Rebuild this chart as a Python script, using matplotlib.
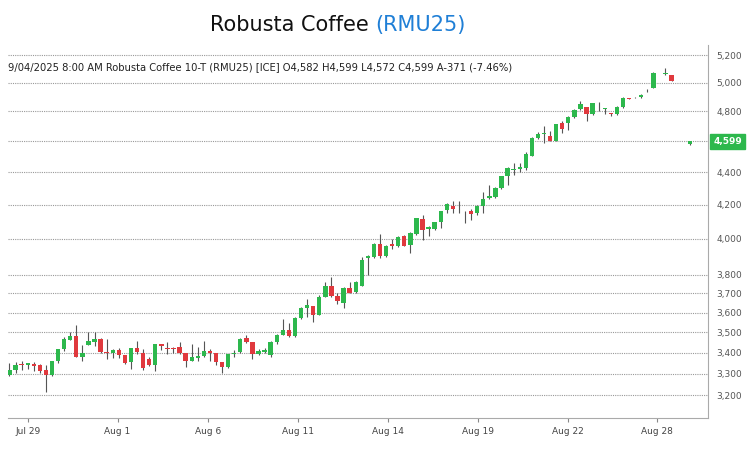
import matplotlib.pyplot as plt
from matplotlib.ticker import FixedLocator, NullLocator
import numpy as np

# OHLC bars
opens = [3294, 3318, 3345, 3342, 3345, 3340, 3318, 3294, 3362, 3416,
         3462, 3483, 3380, 3438, 3450, 3465, 3403, 3398, 3412, 3387,
         3355, 3425, 3400, 3368, 3340, 3440, 3425, 3425, 3428, 3400,
         3362, 3375, 3382, 3407, 3398, 3353, 3333, 3395, 3405, 3470,
         3450, 3395, 3405, 3390, 3450, 3485, 3510, 3480, 3575, 3625,
         3635, 3590, 3680, 3740, 3685, 3650, 3730, 3710, 3740, 3890,
         3900, 3970, 3905, 3970, 3958, 4018, 3965, 4030, 4115, 4055,
         4055, 4095, 4170, 4195, 4165, 4150, 4165, 4148, 4195, 4240,
         4245, 4300, 4375, 4412, 4418, 4425, 4505, 4620, 4645, 4635,
         4600, 4718, 4722, 4760, 4815, 4830, 4780, 4850, 4818, 4785,
         4778, 4830, 4890, 4895, 4895, 4935, 4965, 5055, 5060, 5055,
         5005, 4975, 4582]
highs = [3350, 3353, 3358, 3352, 3357, 3345, 3340, 3362, 3420, 3475,
         3500, 3535, 3438, 3500, 3500, 3472, 3465, 3420, 3422, 3390,
         3425, 3458, 3420, 3380, 3440, 3442, 3450, 3428, 3450, 3400,
         3440, 3430, 3458, 3418, 3398, 3353, 3395, 3415, 3470, 3485,
         3450, 3420, 3425, 3455, 3490, 3570, 3545, 3580, 3630, 3670,
         3635, 3690, 3760, 3790, 3700, 3735, 3760, 3765, 3900, 3910,
         3975, 4030, 3965, 4000, 4015, 4020, 4040, 4120, 4140, 4075,
         4098, 4160, 4210, 4220, 4225, 4165, 4175, 4198, 4275, 4320,
         4305, 4378, 4430, 4455, 4455, 4530, 4625, 4660, 4700, 4665,
         4710, 4735, 4765, 4815, 4870, 4830, 4860, 4865, 4822, 4787,
         4835, 4895, 4892, 4900, 4920, 4955, 5075, 5058, 5105, 5058,
         5007, 4977, 4599]
lows = [3290, 3305, 3318, 3320, 3310, 3305, 3215, 3290, 3350, 3410,
        3460, 3380, 3358, 3438, 3435, 3400, 3370, 3375, 3375, 3345,
        3320, 3395, 3318, 3337, 3312, 3415, 3395, 3398, 3395, 3330,
        3360, 3362, 3378, 3362, 3342, 3305, 3325, 3380, 3400, 3448,
        3370, 3390, 3400, 3380, 3440, 3485, 3475, 3475, 3570, 3580,
        3550, 3590, 3680, 3680, 3645, 3625, 3700, 3700, 3740, 3800,
        3890, 3895, 3900, 3945, 3955, 3958, 3920, 4025, 3995, 4015,
        4050, 4060, 4150, 4150, 4150, 4090, 4110, 4140, 4150, 4235,
        4240, 4295, 4320, 4380, 4400, 4415, 4500, 4610, 4590, 4600,
        4600, 4650, 4675, 4755, 4810, 4735, 4775, 4800, 4778, 4770,
        4775, 4825, 4882, 4893, 4892, 4933, 4963, 5053, 5058, 5010,
        5003, 4973, 4572]
closes = [3318, 3342, 3340, 3350, 3338, 3313, 3294, 3362, 3416, 3465,
          3483, 3380, 3398, 3455, 3465, 3403, 3398, 3415, 3390, 3350,
          3425, 3403, 3325, 3340, 3440, 3433, 3420, 3420, 3400, 3362,
          3378, 3382, 3407, 3398, 3353, 3333, 3395, 3400, 3467, 3450,
          3395, 3410, 3415, 3450, 3485, 3510, 3480, 3575, 3625, 3638,
          3590, 3680, 3740, 3685, 3660, 3730, 3705, 3760, 3880, 3905,
          3970, 3905, 3960, 3958, 4010, 3960, 4035, 4120, 4050, 4070,
          4095, 4160, 4205, 4175, 4160, 4152, 4145, 4195, 4235, 4250,
          4300, 4375, 4425, 4418, 4435, 4515, 4620, 4645, 4650, 4600,
          4710, 4678, 4760, 4810, 4848, 4780, 4855, 4853, 4820, 4780,
          4830, 4890, 4885, 4898, 4915, 4937, 5070, 5057, 5070, 5012,
          5005, 4975, 4599]

tick_pos = [3, 17.8, 32.7, 47.5, 62.3, 77.1, 92, 106.6]
tick_labels = ['Jul 29', 'Aug 1', 'Aug 6', 'Aug 11', 'Aug 14', 'Aug 19', 'Aug 22', 'Aug 28']
y_ticks = [3200, 3300, 3400, 3500, 3600, 3700, 3800, 4000, 4200, 4400, 4600, 4800, 5000, 5200]

green = '#2db84d'
red = '#e0393e'

o = np.array(opens)
h = np.array(highs)
l = np.array(lows)
c = np.array(closes)
x = np.arange(len(o))
cols = [green if cc >= oo else red for oo, cc in zip(o, c)]

fig = plt.figure(figsize=(7.5, 4.5), dpi=100)
ax = fig.add_axes([0.011, 0.071, 0.933, 0.829])
ax.set_yscale('log')

ax.vlines(x, l, h, colors='#555555', linewidth=0.8, zorder=2)
bottoms = np.minimum(o, c)
heights = np.maximum(np.abs(c - o), 2)
ax.bar(x, heights, bottom=bottoms, width=0.72, color=cols, zorder=3)

ax.set_xlim(-0.2, 115)
ax.set_ylim(3097, 5276)
ax.yaxis.tick_right()
ax.yaxis.set_major_locator(FixedLocator(y_ticks))
ax.yaxis.set_minor_locator(NullLocator())
# the 4,600 label sits under the last-price tag
ax.set_yticklabels(['' if v == 4600 else f'{v:,}' for v in y_ticks], fontsize=6.5, color='#555555')
ax.set_xticks(tick_pos)
ax.set_xticklabels(tick_labels, fontsize=6.5, color='#444444')
ax.tick_params(axis='y', length=0, pad=6)
ax.tick_params(axis='x', length=3, color='#888888')
for yv in y_ticks:
    ax.axhline(yv, color='#999999', linestyle=(0, (1, 1)), linewidth=0.8, zorder=1)
for s in ['top', 'left']:
    ax.spines[s].set_visible(False)
for s in ['right', 'bottom']:
    ax.spines[s].set_color('#aaaaaa')

ax.text(0.0, 0.94, '9/04/2025 8:00 AM Robusta Coffee 10-T (RMU25) [ICE] O4,582 H4,599 L4,572 C4,599 A-371 (-7.46%)',
        transform=ax.transAxes, fontsize=7.2, color='#222222', va='center')

# last price tag
ax.annotate(f'{closes[-1]:,}', xy=(1.0, closes[-1]), xycoords=('axes fraction', 'data'),
            xytext=(4, 0), textcoords='offset points', va='center', ha='left',
            fontsize=6.5, color='white', fontweight='bold',
            bbox=dict(boxstyle='square,pad=0.35', fc=green, ec=green))

fig.text(0.5, 0.945, 'Robusta Coffee ', ha='right', va='center', fontsize=15, color='#111111')
fig.text(0.5, 0.945, '(RMU25)', ha='left', va='center', fontsize=15, color='#1f7fd6')
fig.savefig('out.png', dpi=100)
